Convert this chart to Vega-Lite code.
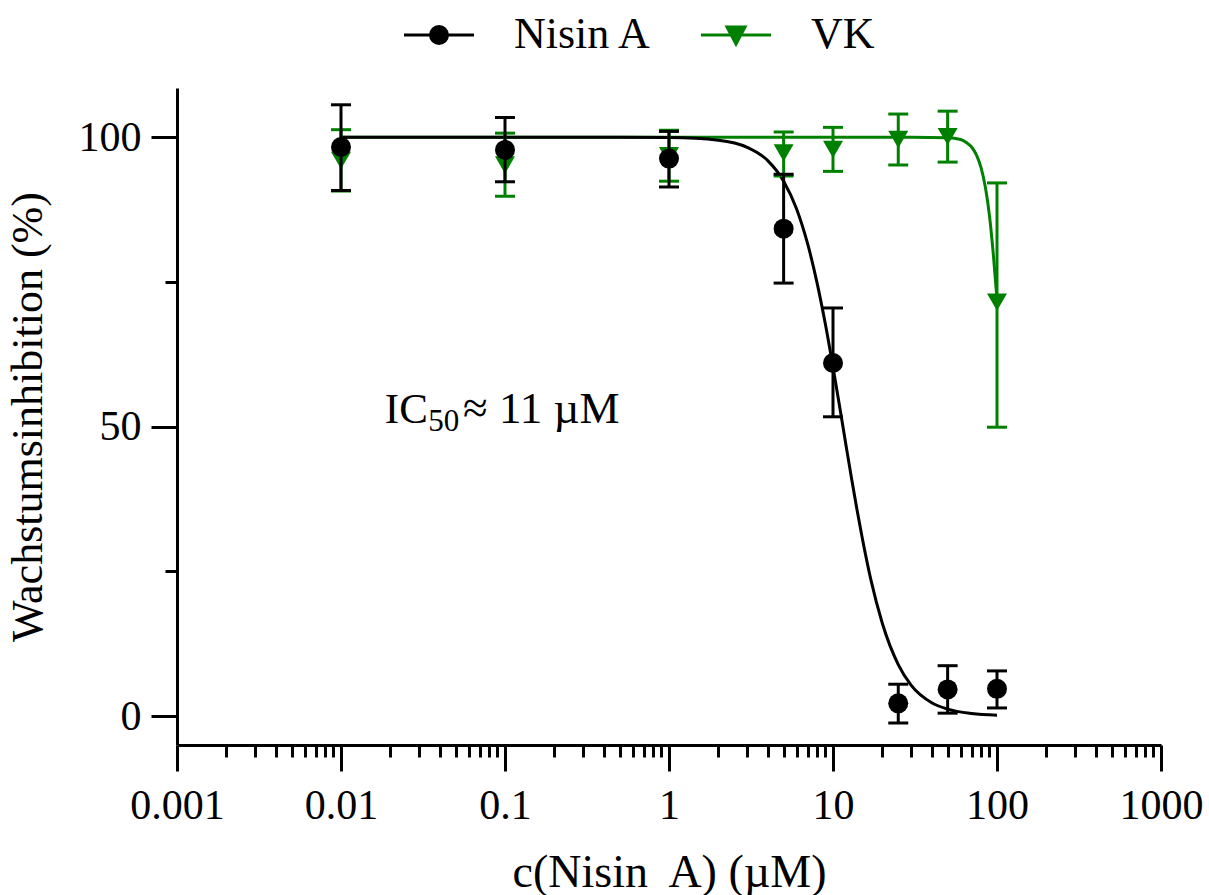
{
  "$schema": "https://vega.github.io/schema/vega-lite/v6.json",
  "width": 984,
  "height": 657,
  "autosize": "none",
  "padding": {"left": 177, "top": 88, "right": 48, "bottom": 150},
  "background": "white",
  "config": {
    "font": "Liberation Serif",
    "view": {"stroke": null},
    "axis": {
      "grid": false,
      "domainColor": "black",
      "domainWidth": 3,
      "tickColor": "black",
      "tickWidth": 3,
      "labelColor": "black",
      "labelFont": "Liberation Serif",
      "labelFontSize": 42,
      "titleColor": "black",
      "titleFont": "Liberation Serif",
      "titleFontWeight": "normal",
      "labelOverlap": false,
      "labelFlush": false
    },
    "legend": {
      "labelFont": "Liberation Serif",
      "labelFontSize": 44,
      "labelColor": "black",
      "padding": 0
    }
  },
  "datasets": {
    "pts": [
      {"series": "VK", "conc": 0.01, "mean": 96.0, "lo": 90.7, "hi": 101.3},
      {"series": "VK", "conc": 0.1, "mean": 95.2, "lo": 89.8, "hi": 100.7},
      {"series": "VK", "conc": 1, "mean": 96.8, "lo": 92.4, "hi": 101.2},
      {"series": "VK", "conc": 5, "mean": 97.3, "lo": 93.3, "hi": 100.9},
      {"series": "VK", "conc": 10, "mean": 97.9, "lo": 94.1, "hi": 101.7},
      {"series": "VK", "conc": 25, "mean": 99.6, "lo": 95.2, "hi": 104.0},
      {"series": "VK", "conc": 50, "mean": 100.1, "lo": 95.7, "hi": 104.5},
      {"series": "VK", "conc": 100, "mean": 71.5, "lo": 49.9, "hi": 92.1},
      {"series": "Nisin A", "conc": 0.01, "mean": 98.3, "lo": 90.8, "hi": 105.6},
      {"series": "Nisin A", "conc": 0.1, "mean": 97.8, "lo": 92.3, "hi": 103.4},
      {"series": "Nisin A", "conc": 1, "mean": 96.3, "lo": 91.4, "hi": 101.0},
      {"series": "Nisin A", "conc": 5, "mean": 84.2, "lo": 74.8, "hi": 93.6},
      {"series": "Nisin A", "conc": 10, "mean": 61.0, "lo": 51.7, "hi": 70.5},
      {"series": "Nisin A", "conc": 25, "mean": 2.2, "lo": -1.2, "hi": 5.5},
      {"series": "Nisin A", "conc": 50, "mean": 4.6, "lo": 0.5, "hi": 8.7},
      {"series": "Nisin A", "conc": 100, "mean": 4.7, "lo": 1.4, "hi": 7.8}
    ],
    "fit": [
      {"series": "VK", "conc": 0.01, "val": 100},
      {"series": "VK", "conc": 1, "val": 100},
      {"series": "VK", "conc": 10, "val": 100},
      {"series": "VK", "conc": 30, "val": 100},
      {"series": "VK", "conc": 50, "val": 99.9},
      {"series": "VK", "conc": 60, "val": 99.6},
      {"series": "VK", "conc": 65, "val": 99.1},
      {"series": "VK", "conc": 70, "val": 98.3},
      {"series": "VK", "conc": 75, "val": 96.9},
      {"series": "VK", "conc": 80, "val": 94.7},
      {"series": "VK", "conc": 85, "val": 91.3},
      {"series": "VK", "conc": 90, "val": 86.4},
      {"series": "VK", "conc": 95, "val": 79.7},
      {"series": "VK", "conc": 100, "val": 72.0},
      {"series": "Nisin A", "conc": 0.01, "val": 100},
      {"series": "Nisin A", "conc": 0.1, "val": 100},
      {"series": "Nisin A", "conc": 0.5, "val": 99.99},
      {"series": "Nisin A", "conc": 1, "val": 99.93},
      {"series": "Nisin A", "conc": 2, "val": 99.48},
      {"series": "Nisin A", "conc": 3, "val": 98.25},
      {"series": "Nisin A", "conc": 4, "val": 95.96},
      {"series": "Nisin A", "conc": 5, "val": 92.4},
      {"series": "Nisin A", "conc": 6, "val": 87.6},
      {"series": "Nisin A", "conc": 7, "val": 81.6},
      {"series": "Nisin A", "conc": 8, "val": 74.8},
      {"series": "Nisin A", "conc": 9, "val": 67.6},
      {"series": "Nisin A", "conc": 10, "val": 60.3},
      {"series": "Nisin A", "conc": 11, "val": 53.3},
      {"series": "Nisin A", "conc": 12, "val": 46.8},
      {"series": "Nisin A", "conc": 13, "val": 40.9},
      {"series": "Nisin A", "conc": 14, "val": 35.7},
      {"series": "Nisin A", "conc": 15, "val": 31.1},
      {"series": "Nisin A", "conc": 17, "val": 23.6},
      {"series": "Nisin A", "conc": 20, "val": 16.0},
      {"series": "Nisin A", "conc": 25, "val": 8.9},
      {"series": "Nisin A", "conc": 30, "val": 5.3},
      {"series": "Nisin A", "conc": 40, "val": 2.3},
      {"series": "Nisin A", "conc": 50, "val": 1.2},
      {"series": "Nisin A", "conc": 70, "val": 0.44},
      {"series": "Nisin A", "conc": 100, "val": 0.15}
    ]
  },
  "layer": [
    {
      "data": {"name": "fit"},
      "mark": {"type": "line", "strokeWidth": 3, "interpolate": "monotone"},
      "encoding": {
        "x": {
          "field": "conc", "type": "quantitative",
          "scale": {"type": "log", "domain": [0.001, 1000], "nice": false},
          "axis": {
            "title": "c(Nisin\u00a0 A) (µM)",
            "titleFontSize": 46,
            "titlePadding": 24,
            "labelPadding": 14,
            "values": [0.001, 0.002, 0.003, 0.004, 0.005, 0.006, 0.007, 0.008, 0.009,
                       0.01, 0.02, 0.03, 0.04, 0.05, 0.06, 0.07, 0.08, 0.09,
                       0.1, 0.2, 0.3, 0.4, 0.5, 0.6, 0.7, 0.8, 0.9,
                       1, 2, 3, 4, 5, 6, 7, 8, 9,
                       10, 20, 30, 40, 50, 60, 70, 80, 90,
                       100, 200, 300, 400, 500, 600, 700, 800, 900, 1000],
            "labelExpr": "indexof([0.001,0.01,0.1,1,10,100,1000], datum.value) >= 0 ? format(datum.value, '~g') : ''",
            "tickSize": {"condition": {"test": "indexof([0.001,0.01,0.1,1,10,100,1000], datum.value) < 0", "value": 12}, "value": 26}
          }
        },
        "y": {
          "field": "val", "type": "quantitative",
          "title": "Wachstumsinhibition (%)",
          "scale": {"domain": [-5, 108.5], "nice": false, "zero": false},
          "axis": {
            "titleFontSize": 44,
            "titlePadding": 28,
            "labelPadding": 10,
            "values": [0, 25, 50, 75, 100],
            "labelExpr": "datum.value % 50 === 0 ? format(datum.value, 'd') : ''",
            "tickSize": {"condition": {"test": "datum.value % 50 !== 0", "value": 12}, "value": 26}
          }
        },
        "color": {
          "field": "series", "type": "nominal",
          "scale": {"domain": ["Nisin A", "VK"], "range": ["black", "#008000"]},
          "legend": {
            "title": null,
            "orient": "none",
            "direction": "horizontal",
            "legendX": 240,
            "legendY": -75,
            "symbolSize": 400,
            "symbolStrokeWidth": 3,
            "labelOffset": 53,
            "columnPadding": 42,
            "encode": {
              "symbols": {
                "update": {
                  "shape": {"signal": "datum.value === 'VK' ? 'M-3.5,0H3.5M-0.9,-0.8L0.9,-0.8L0,0.9Z' : 'M-3.5,0H3.5M-0.85,0A0.85,0.85,0,1,0,0.85,0A0.85,0.85,0,1,0,-0.85,0Z'"},
                  "stroke": {"signal": "datum.value === 'VK' ? '#008000' : 'black'"},
                  "fill": {"signal": "datum.value === 'VK' ? '#008000' : 'black'"},
                  "strokeWidth": {"value": 3},
                  "opacity": {"value": 1},
                  "size": {"value": 400}
                }
              }
            }
          }
        }
      }
    },
    {
      "data": {"name": "pts"},
      "transform": [{"filter": "datum.series === 'VK'"}],
      "mark": {"type": "errorbar", "thickness": 3, "opacity": 1, "rule": {"opacity": 1, "strokeWidth": 3}, "ticks": {"size": 20, "thickness": 3, "opacity": 1}},
      "encoding": {
        "x": {"field": "conc", "type": "quantitative"},
        "y": {"field": "lo", "type": "quantitative", "title": "Wachstumsinhibition (%)"},
        "y2": {"field": "hi"},
        "color": {"field": "series", "type": "nominal"}
      }
    },
    {
      "data": {"name": "pts"},
      "transform": [{"filter": "datum.series === 'VK'"}],
      "mark": {"type": "point", "filled": true, "opacity": 1, "size": 400, "shape": "triangle-down"},
      "encoding": {
        "x": {"field": "conc", "type": "quantitative"},
        "y": {"field": "mean", "type": "quantitative", "title": "Wachstumsinhibition (%)"},
        "color": {"field": "series", "type": "nominal"}
      }
    },
    {
      "data": {"name": "pts"},
      "transform": [{"filter": "datum.series === 'Nisin A'"}],
      "mark": {"type": "errorbar", "thickness": 3, "opacity": 1, "rule": {"opacity": 1, "strokeWidth": 3}, "ticks": {"size": 20, "thickness": 3, "opacity": 1}},
      "encoding": {
        "x": {"field": "conc", "type": "quantitative"},
        "y": {"field": "lo", "type": "quantitative", "title": "Wachstumsinhibition (%)"},
        "y2": {"field": "hi"},
        "color": {"field": "series", "type": "nominal"}
      }
    },
    {
      "data": {"name": "pts"},
      "transform": [{"filter": "datum.series === 'Nisin A'"}],
      "mark": {"type": "point", "filled": true, "opacity": 1, "size": 400, "shape": "circle"},
      "encoding": {
        "x": {"field": "conc", "type": "quantitative"},
        "y": {"field": "mean", "type": "quantitative", "title": "Wachstumsinhibition (%)"},
        "color": {"field": "series", "type": "nominal"}
      }
    },
    {
      "data": {"values": [{}]},
      "mark": {"type": "text", "text": "IC", "fontSize": 43, "align": "left", "baseline": "alphabetic", "color": "black", "font": "Liberation Serif"},
      "encoding": {
        "x": {"datum": 0.0185, "type": "quantitative"},
        "y": {"datum": 50.6, "type": "quantitative"}
      }
    },
    {
      "data": {"values": [{}]},
      "mark": {"type": "text", "text": "50", "fontSize": 31, "align": "left", "baseline": "alphabetic", "color": "black", "font": "Liberation Serif"},
      "encoding": {
        "x": {"datum": 0.034, "type": "quantitative"},
        "y": {"datum": 49.2, "type": "quantitative"}
      }
    },
    {
      "data": {"values": [{}]},
      "mark": {"type": "text", "text": "≈ 11 µM", "fontSize": 45, "align": "left", "baseline": "alphabetic", "color": "black", "font": "Liberation Serif"},
      "encoding": {
        "x": {"datum": 0.0555, "type": "quantitative"},
        "y": {"datum": 50.6, "type": "quantitative"}
      }
    }
  ]
}
